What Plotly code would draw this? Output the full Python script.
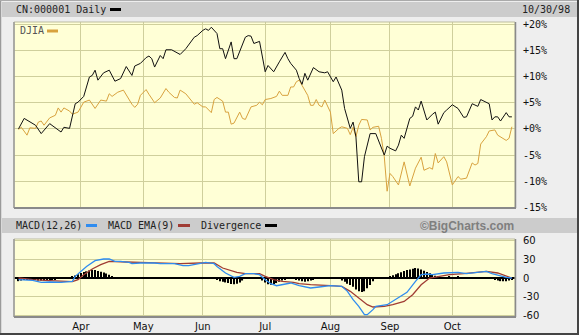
import pandas as pd
import plotly.graph_objects as go

# ---------------- data ----------------
trade_dates = pd.bdate_range("1998-03-02", "1998-10-30")   # trading-day axis (index = day number)
month_names = ["Apr", "May", "Jun", "Jul", "Aug", "Sep", "Oct"]
month_nums = [4, 5, 6, 7, 8, 9, 10]

# CN:000001 (% change)
cn_day = [0, 2, 6, 8, 11, 15, 16, 18, 20, 21, 23, 25, 26, 27, 28, 30, 32, 34, 36, 38, 40, 41, 43, 45, 46, 47, 48,
          50, 51, 52, 54, 57, 59, 61, 62, 63, 65, 66, 67, 68, 69, 70, 71, 72, 73, 75, 76, 77, 80, 81, 82, 83, 85,
          87, 88, 90, 92, 94, 95, 96, 98, 99, 100, 101, 102, 104, 106, 108, 109, 111, 112, 114, 115, 117, 118, 119,
          120, 121, 122, 124, 126, 127, 129, 130, 131, 133, 134, 135, 136, 138, 139, 140, 141, 142, 144, 146, 147,
          148, 150, 151, 153, 155, 157, 158, 160, 162, 163, 166, 167, 168, 169, 170, 172, 173, 174]
cn_pct = [0, 2.0, 0.7, -0.9, 1.0, -0.6, 0.3, 0.1, 4.8, 5.1, 6.2, 9.9, 10.2, 11.2, 9.3, 10.7, 11.2, 9.1, 9.6, 11.9,
          10.2, 12.0, 12.5, 13.6, 13.9, 13.4, 11.8, 14.0, 13.4, 15.1, 15.1, 14.2, 15.3, 16.9, 17.5, 17.8, 18.8, 19.1,
          18.8, 19.4, 18.8, 18.2, 15.3, 15.3, 13.4, 16.6, 13.4, 13.4, 17.5, 17.8, 17.7, 16.3, 16.7, 10.9, 12.1, 10.9,
          12.8, 14.6, 13.4, 12.5, 11.2, 9.6, 8.5, 10.6, 9.3, 11.7, 10.9, 10.7, 10.9, 9.0, 9.9, 7.4, 3.9, 0.1, 1.3,
          -1.5, -10.1, -10.1, -5.3, -0.9, -0.9, -2.2, -5.0, -3.3, -3.7, -4.2, -3.1, -1.2, -1.8, 2.0, 2.4, 4.2, 3.6,
          5.3, 1.7, 2.8, 3.2, 0.9, 3.1, 3.6, 4.6, 3.9, 2.2, 2.3, 4.8, 4.3, 5.6, 4.8, 1.7, 2.3, 2.3, 1.5, 3.1, 2.3, 2.3]

# DJIA (% change)
djia_day = [0, 1, 3, 4, 6, 7, 8, 9, 11, 13, 14, 15, 16, 18, 19, 21, 23, 25, 27, 29, 31, 32, 33, 35, 37, 38, 40, 41,
            42, 43, 45, 46, 48, 50, 52, 53, 55, 56, 57, 59, 62, 63, 65, 66, 68, 69, 70, 72, 73, 74, 75, 76, 78, 79,
            80, 82, 84, 85, 86, 87, 89, 91, 92, 93, 95, 96, 97, 98, 99, 100, 102, 103, 104, 105, 106, 107, 108, 110,
            111, 113, 114, 116, 117, 118, 119, 120, 121, 123, 124, 125, 127, 128, 129, 130, 131, 132, 134, 136, 138,
            140, 142, 143, 145, 146, 147, 148, 150, 151, 153, 155, 156, 158, 160, 161, 162, 163, 165, 166, 168, 169,
            170, 172, 173, 174]
djia_pct = [-0.1, 0.3, -1.2, 0.2, 0.1, 1.3, 1.5, 0.7, 2.1, 2.6, 4.0, 3.2, 4.0, 3.4, 2.8, 3.2, 5.1, 5.5, 3.9, 5.5,
            5.3, 6.7, 6.2, 7.0, 7.4, 6.4, 4.7, 4.1, 4.7, 6.4, 7.5, 6.6, 5.0, 5.9, 7.7, 7.0, 6.0, 5.9, 7.4, 6.7, 4.7,
            5.0, 4.2, 4.2, 3.1, 5.6, 6.0, 5.3, 3.2, 3.2, 0.9, 1.1, 3.2, 2.0, 1.8, 4.2, 4.5, 5.1, 4.6, 5.6, 5.8, 6.2,
            7.2, 6.4, 6.4, 8.0, 8.0, 9.0, 9.3, 8.3, 6.4, 4.5, 4.5, 5.6, 4.5, 4.2, 5.5, 3.2, -0.9, 0.1, 0.4, 0.1,
            -1.1, 0.3, -1.5, 0.7, 1.8, 1.7, -0.2, 0.3, 0.5, -1.8, -5.3, -11.9, -8.5, -9.1, -10.7, -6.3, -10.9, -7.5,
            -5.4, -7.9, -7.4, -7.7, -4.7, -6.5, -5.3, -6.3, -10.7, -9.1, -9.6, -9.4, -6.5, -6.9, -6.6, -2.9, -1.5,
            -0.4, -0.2, -1.2, -1.5, -2.2, -1.8, 0.4]

# MACD(12,26)
macd_day = [0, 5, 8, 11, 15, 19, 20, 22, 24, 27, 30, 32, 34, 36, 39, 40, 43, 48, 50, 55, 58, 60, 63, 66, 69, 70, 73,
            76, 78, 80, 83, 85, 87, 89, 91, 93, 96, 99, 103, 106, 110, 114, 116, 118, 120, 122, 123, 125, 126, 130,
            133, 137, 140, 142, 144, 146, 150, 153, 155, 158, 162, 165, 167, 170, 172, 174]
macd_val = [-2.7, -3.8, -6.9, -6.3, -6.9, -5.3, 2.6, 10.4, 18.3, 27.3, 30, 30, 26.2, 26.2, 24.7, 22.6, 23.7, 23.7,
            22.6, 22.6, 19.4, 19.4, 22.6, 24.7, 22.6, 18.3, 7.9, 1.0, 2.6, 6.8, 6.8, 5.2, -2.7, -9, -12.2, -10.6,
            -7.9, -12.2, -15.8, -14.2, -12.2, -13.2, -21.1, -34.3, -44.8, -58, -58, -50, -44.8, -42.2, -34.3, -22.7,
            -5.3, 5.2, 6.3, 5.2, 7.9, 8.8, 8.8, 6.8, 8.8, 10.4, 6.8, 2.6, 1.0, 0]

# MACD EMA(9)
ema_day = [0, 5, 11, 19, 21, 23, 26, 29, 32, 35, 38, 43, 50, 57, 64, 69, 72, 77, 80, 85, 87, 90, 93, 97, 99, 103,
           110, 114, 117, 120, 123, 125, 129, 132, 136, 139, 142, 145, 149, 152, 157, 162, 165, 169, 172, 174]
ema_val = [0, -2.7, -4.3, -5.8, -2.7, 5.2, 14.2, 21, 26.2, 26.2, 25.3, 24.7, 23.7, 22.6, 23.7, 23.7, 15.8, 8.8, 6.8,
           6.8, 2.6, -2.7, -5.3, -6.9, -9, -10.6, -12.2, -13.2, -21.1, -31.6, -42.2, -45.8, -44.8, -42.2, -37,
           -26.4, -10.6, 0, 3.6, 5.2, 6.8, 8.8, 10.4, 7.9, 3.6, 0]

# Divergence bars
div_day = ([0, 1, 2, 3, 4, 5, 6, 7, 8, 9, 10, 11, 12, 13, 14]
           + list(range(19, 34))
           + [37, 39, 40, 41, 48, 49, 50, 54, 55, 56, 57, 58]
           + list(range(70, 81)) + list(range(86, 95)) + list(range(98, 105))
           + list(range(114, 126)) + list(range(130, 149)) + [152, 155] + list(range(167, 175)))
div_val = ([-5, -4, -3, -3, -2, -3, -3, -4, -4, -4, -3, -3, -2, -2, -1]
           + [2, 4, 6, 8, 9.5, 10.5, 12, 13, 12.5, 11, 10, 8.5, 7, 5, 3]
           + [-1, -1.5, -1.5, -1.5, -1.5, -1.5, -1.5, -1.5, -1.5, -1.5, -1.5, -1.5]
           + [-3, -5, -6, -7, -8, -9.5, -10, -9, -7, -4, -1.5]
           + [-4, -7, -10, -10.5, -9.5, -8, -6, -4, -2]
           + [-2, -4, -5, -6, -5, -4, -2]
           + [-4, -6, -9, -11, -14, -18, -21, -22, -21, -16, -11, -5]
           + [1.5, 2.6, 4.2, 6, 7.5, 9, 11, 12.5, 13.5, 14.7, 15.8, 15, 13.5, 11.5, 9.5, 7.4, 5.3, 3.5, 2]
           + [3, 2] + [-1.5, -2.6, -4, -5, -5, -5, -4, -3])

pct_ticks = [20, 15, 10, 5, 0, -5, -10, -15]
pct_labels = ["+20%", "+15%", "+10%", "+5%", "+0%", "-5%", "-10%", "-15%"]
macd_ticks = [60, 30, 0, -30, -60]
macd_labels = ["60", "30", "0", "-30", "-60"]

# month-start trading-day positions
month_pos = [int((trade_dates.month == m).argmax()) for m in month_nums]

# ---------------- layout constants ----------------
W, H = 579, 335
def px(x): return x / W
def py(y): return 1 - y / H

MONO = "DejaVu Sans Mono"
SANS = "DejaVu Sans"
GRID = "#CFCF9C"
BG = "#FFFFD6"
XR = [-1.59, 175.1]

fig = go.Figure()
fig.add_trace(go.Scatter(x=djia_day, y=djia_pct, mode="lines", line=dict(color="#D8A23E", width=1),
                         xaxis="x", yaxis="y", hoverinfo="skip"))
fig.add_trace(go.Scatter(x=cn_day, y=cn_pct, mode="lines", line=dict(color="#111111", width=1),
                         xaxis="x", yaxis="y", hoverinfo="skip"))
fig.add_trace(go.Bar(x=div_day, y=div_val, width=0.4, marker=dict(color="#000000", line=dict(width=0)),
                     xaxis="x2", yaxis="y2", hoverinfo="skip"))
fig.add_trace(go.Scatter(x=ema_day, y=ema_val, mode="lines", line=dict(color="#A03C34", width=1.3),
                         xaxis="x2", yaxis="y2", hoverinfo="skip"))
fig.add_trace(go.Scatter(x=macd_day, y=macd_val, mode="lines", line=dict(color="#2F8CF0", width=1.3),
                         xaxis="x2", yaxis="y2", hoverinfo="skip"))

xdom = [px(14), px(515)]
fig.update_layout(
    width=W, height=H, margin=dict(l=0, r=0, t=0, b=0, pad=0, autoexpand=False),
    paper_bgcolor="#EEEEEE", plot_bgcolor=BG, showlegend=False,
    xaxis=dict(domain=xdom, range=XR, anchor="y", tickvals=month_pos, showticklabels=False, automargin=False,
               showgrid=True, gridcolor=GRID, gridwidth=1, zeroline=False, showline=False, ticks=""),
    yaxis=dict(domain=[py(208), py(22)], range=[-15.1, 20.4], anchor="x", side="right", automargin=False,
               tickvals=pct_ticks, ticktext=pct_labels, showgrid=True, gridcolor=GRID, gridwidth=1,
               zeroline=False, showline=False, ticks="", ticklabelstandoff=7,
               tickfont=dict(family=MONO, size=10, color="#111111")),
    xaxis2=dict(domain=xdom, range=XR, anchor="y2", tickvals=month_pos, ticktext=month_names, automargin=False,
                showgrid=True, gridcolor=GRID, gridwidth=1, zeroline=False, showline=False, ticks="",
                ticklabelstandoff=2, tickfont=dict(family=SANS, size=10, color="#111111")),
    yaxis2=dict(domain=[py(317), py(239)], range=[-61.6, 61.6], anchor="x2", side="right", automargin=False,
                tickvals=macd_ticks, ticktext=macd_labels, showgrid=True, gridcolor=GRID, gridwidth=1,
                zeroline=True, zerolinecolor="#000000", zerolinewidth=1.5, showline=False, ticks="",
                ticklabelstandoff=7, tickfont=dict(family=SANS, size=10, color="#111111")),
)

shapes = []
def rect(x0, y0, x1, y1, fill=None, line=None, lw=0, layer="below"):
    shapes.append(dict(type="rect", xref="paper", yref="paper", x0=px(x0), x1=px(x1), y0=py(y1), y1=py(y0),
                       fillcolor=fill, line=dict(color=line or "rgba(0,0,0,0)", width=lw), layer=layer))
def hline(x0, x1, y, color, w):
    shapes.append(dict(type="line", xref="paper", yref="paper", x0=px(x0), x1=px(x1), y0=py(y), y1=py(y),
                       line=dict(color=color, width=w), layer="above"))
def vline(x, y0, y1, color, w):
    shapes.append(dict(type="line", xref="paper", yref="paper", x0=px(x), x1=px(x), y0=py(y0), y1=py(y1),
                       line=dict(color=color, width=w), layer="above"))

# header bands
rect(2, 2, 577, 17, fill="#CCCCCC")
rect(2, 218, 577, 233, fill="#CCCCCC")
# plot frames
for (t, b) in [(22, 208), (239, 317)]:
    rect(14, t, 515, b, line="#BDBDA0", lw=1, layer="above")
    vline(14, t, b, "#9A9A9A", 1.5)
    hline(14, 516, b, "#8A8A8A", 2)
    vline(515.5, t, b, "#8A8A8A", 1.5)
# outer border
vline(0.5, 0, 335, "#9A9A9A", 1.5)
hline(0, 579, 0.5, "#AAAAAA", 1)
vline(578, 0, 335, "#444444", 2)
hline(0, 579, 334, "#444444", 2)
# legend swatches
hline(110, 121, 9.5, "#000000", 3)
hline(47, 58, 31, "#D8A23E", 3)
hline(86, 97, 225.5, "#2F8CF0", 3)
hline(178, 190, 225.5, "#A03C34", 3)
hline(265, 277, 225.5, "#000000", 3)
fig.update_layout(shapes=shapes)

def label(x, y, text, font, size, color, anchor="left", bold=False):
    fig.add_annotation(xref="paper", yref="paper", x=px(x), y=py(y), text=("<b>%s</b>" % text) if bold else text,
                       showarrow=False, xanchor=anchor, yanchor="middle",
                       font=dict(family=font, size=size, color=color))

label(14, 9.5, "CN:000001 Daily", MONO, 10, "#222222")
label(572, 9.5, "10/30/98", MONO, 10, "#222222", anchor="right")
label(18, 31, "DJIA", MONO, 10, "#555555")
label(14, 225.5, "MACD(12,26)", MONO, 10, "#222222")
label(106, 225.5, "MACD EMA(9)", MONO, 10, "#222222")
label(199, 225.5, "Divergence", MONO, 10, "#222222")
label(516, 225.5, "©BigCharts.com", "Liberation Sans", 12, "#7F7F7F", anchor="right", bold=True)

fig.write_html("out.html")
